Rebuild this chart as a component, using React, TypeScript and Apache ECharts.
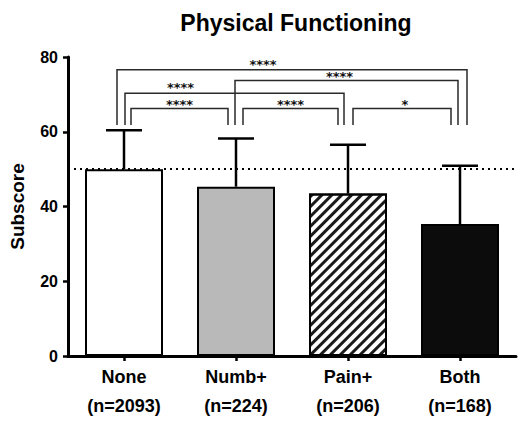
import React, { useEffect, useRef } from "react";
import * as echarts from "echarts";

const categories = ["None", "Numb+", "Pain+", "Both"];
const nLabels = ["(n=2093)", "(n=224)", "(n=206)", "(n=168)"];
const means = [50.0, 45.3, 43.5, 35.3];
const sdTops = [60.4, 58.2, 56.5, 50.9];
const referenceLevel = 50;
const yTicks = [0, 20, 40, 60, 80];

// significance brackets: [fromIndex, toIndex, bracketLevel, legBottom]
const bracketFrom = [0, 1, 0, 0, 1, 2];
const bracketTo = [3, 3, 2, 1, 2, 3];
const bracketLevel = [76.6, 73.7, 70.3, 66.2, 66.2, 66.2];
const bracketLegBottom = [61.8, 61.8, 61.8, 61.8, 61.8, 61.8];
const bracketStars = ["****", "****", "****", "****", "****", "*"];

// pixel styling offsets for bracket legs and star labels
const legOffsetFrom = [-7, -1, 1, 7, 7, 5];
const legOffsetTo = [7, -2, -4, -8, -10, -9];
const starOffsetX = [-29, -7, -54, 0, 0, 3];
const starLift = [7.7, 6.5, 8.7, 7, 7, 6.5];

const FONT = "'Liberation Sans', Arial, Helvetica, sans-serif";
const STAR_FONT = "'DejaVu Sans', sans-serif";
const STAR_SIZE = 13;

export default function App() {
  const ref = useRef<HTMLDivElement>(null);
  useEffect(() => {
    if (!ref.current) return;
    const chart = echarts.init(ref.current, null, { renderer: "svg" });

    const barColors = ["#ffffff", "#b9b9b9", "#ffffff", "#0c0c0c"];
    const barData = means.map((v, i) => {
      const item: any = {
        value: v,
        itemStyle: { color: barColors[i], borderColor: "#000", borderWidth: 2 },
      };
      if (i === 2) {
        item.itemStyle.decal = {
          symbol: "rect",
          symbolSize: 1,
          color: "#1a1a1a",
          dashArrayX: [1, 0],
          dashArrayY: [3, 4],
          rotation: -Math.PI / 4,
        };
      }
      return item;
    });

    const errData = means.map((m, i) => [i, m, sdTops[i]]);
    const bracketData = bracketFrom.map((f, i) => [
      f,
      bracketTo[i],
      bracketLevel[i],
      bracketLegBottom[i],
    ]);

    chart.setOption({
      animation: false,
      title: {
        text: "Physical Functioning",
        left: 291,
        top: 6,
        textAlign: "center",
        textStyle: { fontFamily: FONT, fontSize: 23, fontWeight: "bold", color: "#000" },
      },
      grid: { left: 66, right: 9, top: 57, bottom: 72, containLabel: false },
      xAxis: {
        type: "category",
        data: categories,
        axisLine: { show: true, lineStyle: { color: "#000", width: 3 } },
        axisTick: { show: true, alignWithLabel: true, length: 5, lineStyle: { color: "#000", width: 2.5 } },
        axisLabel: {
          margin: 6,
          fontFamily: FONT,
          fontSize: 18,
          fontWeight: "bold",
          color: "#000",
          lineHeight: 29,
          formatter: (val: string, idx: number) => `${val}\n${nLabels[idx]}`,
        },
      },
      yAxis: {
        type: "value",
        min: yTicks[0],
        max: yTicks[yTicks.length - 1],
        interval: 20,
        name: "Subscore",
        nameLocation: "middle",
        nameGap: 41,
        nameTextStyle: { fontFamily: FONT, fontSize: 19, fontWeight: "bold", color: "#000" },
        axisLine: { show: true, lineStyle: { color: "#000", width: 3 } },
        axisTick: { show: true, length: 5, lineStyle: { color: "#000", width: 2.5 } },
        axisLabel: { margin: 10, fontFamily: FONT, fontSize: 16, fontWeight: "bold", color: "#000" },
        splitLine: { show: false },
      },
      series: [
        {
          type: "bar",
          data: barData,
          barWidth: 78,
          z: 2,
          markLine: {
            silent: true,
            symbol: "none",
            label: { show: false },
            lineStyle: { type: [2, 4], color: "#000", width: 2 },
            data: [{ yAxis: referenceLevel }],
          },
        },
        {
          type: "custom",
          z: 3,
          data: errData,
          encode: { x: 0, y: [1, 2] },
          renderItem: (params: any, api: any) => {
            const p0 = api.coord([api.value(0), api.value(1)]);
            const p1 = api.coord([api.value(0), api.value(2)]);
            const half = 18;
            return {
              type: "group",
              children: [
                { type: "line", shape: { x1: p0[0], y1: p0[1], x2: p1[0], y2: p1[1] }, style: { stroke: "#000", lineWidth: 2.5 } },
                { type: "line", shape: { x1: p1[0] - half, y1: p1[1], x2: p1[0] + half, y2: p1[1] }, style: { stroke: "#000", lineWidth: 2.5 } },
              ],
            };
          },
        },
        {
          type: "custom",
          z: 4,
          data: bracketData,
          encode: { x: [0, 1], y: [2, 3] },
          renderItem: (params: any, api: any) => {
            const i = params.dataIndex;
            const a = api.coord([api.value(0), api.value(2)]);
            const b = api.coord([api.value(1), api.value(2)]);
            const bottom = api.coord([api.value(0), api.value(3)])[1];
            const xa = a[0] + legOffsetFrom[i];
            const xb = b[0] + legOffsetTo[i];
            const y = a[1];
            const st = { stroke: "#2a2a2a", lineWidth: 1.5, fill: "none" };
            return {
              type: "group",
              children: [
                { type: "polyline", shape: { points: [[xa, bottom], [xa, y], [xb, y], [xb, bottom]] }, style: st },
                {
                  type: "text",
                  x: (xa + xb) / 2 + starOffsetX[i],
                  y: y - starLift[i] + 0.2 * STAR_SIZE,
                  style: {
                    text: bracketStars[i],
                    fontFamily: STAR_FONT,
                    fontSize: STAR_SIZE,
                    fontWeight: "bold",
                    fill: "#111",
                    textAlign: "center",
                    textVerticalAlign: "middle",
                  },
                },
              ],
            };
          },
        },
      ],
    });
    return () => chart.dispose();
  }, []);
  return <div ref={ref} style={{ width: 525, height: 428, position: "absolute", left: 0, top: 0 }} />;
}
